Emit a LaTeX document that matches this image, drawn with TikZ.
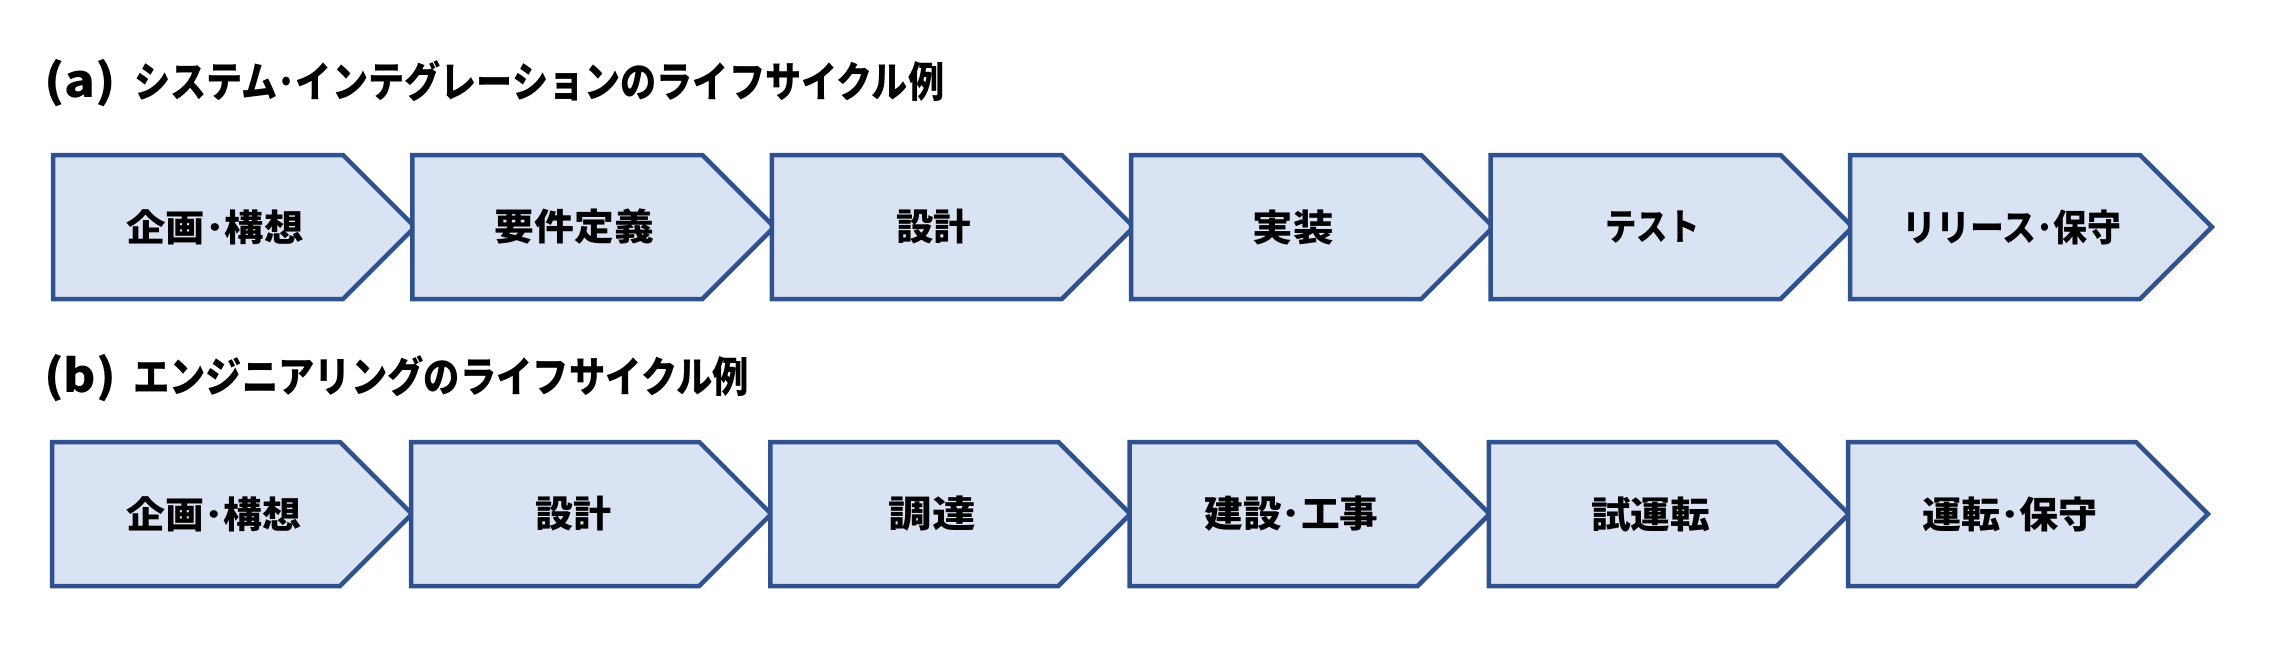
\documentclass[tikz,border=0pt]{standalone}
\usepackage{fontspec}
\usepackage{graphicx}
\newfontfamily\jp{Noto Sans CJK JP}
\definecolor{stroke}{HTML}{2F528F}
\definecolor{fillc}{HTML}{DAE3F3}
\tikzset{
  stage/.style={draw=stroke, fill=fillc, line width=4.5pt, line join=miter},
  lbl/.style={inner sep=0pt, text=black, font=\jp\bfseries\fontsize{37}{40}\selectfont},
  ttl/.style={inner sep=0pt, anchor=west, text=black, font=\jp\bfseries\fontsize{42}{46}\selectfont},
}
% #1 name, #2 left x, #3 text width, #4 text
\newcommand\stgA[4]{%
  \draw[stage] (#2,155) -- (#2+290,155) -- (#2+362,227) -- (#2+290,299) -- (#2,299) -- cycle;
  \node[lbl] (#1) at (#2+162,227) {\resizebox{#3pt}{\height}{#4}};
}
\newcommand\stgB[4]{%
  \draw[stage] (#2,442) -- (#2+288,442) -- (#2+360,514) -- (#2+288,586) -- (#2,586) -- cycle;
  \node[lbl] (#1) at (#2+162,514) {\resizebox{#3pt}{\height}{#4}};
}
\begin{document}
\begin{tikzpicture}[x=1pt,y=-1pt]
\useasboundingbox (0,0) rectangle (2281,654);
\node[ttl] (ta) at (44,83) {\resizebox{72pt}{1.08\height}{(a)}\hspace{18pt}\resizebox{810pt}{\height}{システム･インテグレーションのライフサイクル例}};
\stgA{a1}{53}{177}{企画･構想}
\stgA{a2}{412.4}{159}{要件定義}
\stgA{a3}{771.8}{75}{設計}
\stgA{a4}{1131.2}{81}{実装}
\stgA{a5}{1490.6}{94}{テスト}
\stgA{a6}{1850}{219}{リリース･保守}
\node[ttl] (tb) at (44,378) {\resizebox{72pt}{1.08\height}{(b)}\hspace{17pt}\resizebox{616pt}{\height}{エンジニアリングのライフサイクル例}};
\stgB{b1}{52}{175}{企画･構想}
\stgB{b2}{411.2}{76}{設計}
\stgB{b3}{770.4}{87}{調達}
\stgB{b4}{1129.6}{174}{建設･工事}
\stgB{b5}{1488.8}{119}{試運転}
\stgB{b6}{1848}{176}{運転･保守}
\end{tikzpicture}
\end{document}
